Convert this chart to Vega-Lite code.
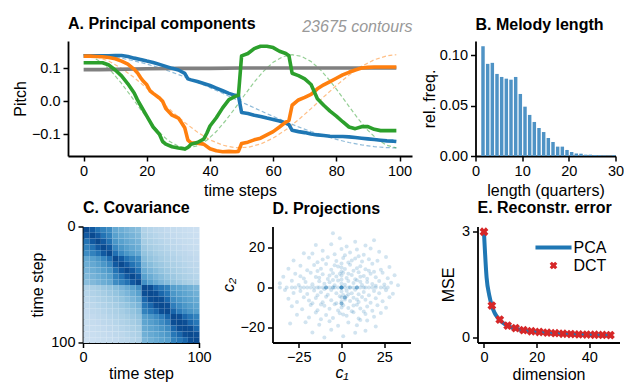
{
  "$schema": "https://vega.github.io/schema/vega-lite/v6.json",
  "background": "white",
  "padding": {"left": 12, "top": 16, "right": 0, "bottom": 0},
  "columns": 1,
  "align": "none",
  "spacing": 1.5,
  "resolve": {"scale": {"color": "independent"}, "legend": {"color": "independent"}},
  "datasets": {
    "pcs": [
      {"k":"pc0","t":0,"v":0.096},{"k":"pc0","t":5,"v":0.096},{"k":"pc0","t":10,"v":0.097},{"k":"pc0","t":20,"v":0.099},{"k":"pc0","t":30,"v":0.1},{"k":"pc0","t":40,"v":0.1},{"k":"pc0","t":50,"v":0.101},{"k":"pc0","t":60,"v":0.101},{"k":"pc0","t":70,"v":0.101},{"k":"pc0","t":80,"v":0.101},{"k":"pc0","t":90,"v":0.101},{"k":"pc0","t":99,"v":0.101},
      {"k":"pc1","t":0,"v":0.138},{"k":"pc1","t":2,"v":0.138},{"k":"pc1","t":4,"v":0.138},{"k":"pc1","t":6,"v":0.138},{"k":"pc1","t":8,"v":0.138},{"k":"pc1","t":10,"v":0.139},{"k":"pc1","t":12,"v":0.139},{"k":"pc1","t":14,"v":0.136},{"k":"pc1","t":16,"v":0.131},{"k":"pc1","t":18,"v":0.127},{"k":"pc1","t":20,"v":0.122},{"k":"pc1","t":22,"v":0.118},{"k":"pc1","t":24,"v":0.112},{"k":"pc1","t":26,"v":0.106},{"k":"pc1","t":28,"v":0.1},{"k":"pc1","t":30,"v":0.095},{"k":"pc1","t":32,"v":0.085},{"k":"pc1","t":33,"v":0.068},{"k":"pc1","t":34,"v":0.065},{"k":"pc1","t":36,"v":0.06},{"k":"pc1","t":38,"v":0.054},{"k":"pc1","t":40,"v":0.048},{"k":"pc1","t":42,"v":0.04},{"k":"pc1","t":44,"v":0.032},{"k":"pc1","t":46,"v":0.024},{"k":"pc1","t":48,"v":0.018},{"k":"pc1","t":49,"v":0.017},{"k":"pc1","t":50,"v":-0.034},{"k":"pc1","t":52,"v":-0.037},{"k":"pc1","t":54,"v":-0.042},{"k":"pc1","t":56,"v":-0.046},{"k":"pc1","t":58,"v":-0.051},{"k":"pc1","t":60,"v":-0.055},{"k":"pc1","t":62,"v":-0.06},{"k":"pc1","t":64,"v":-0.066},{"k":"pc1","t":65,"v":-0.071},{"k":"pc1","t":66,"v":-0.088},{"k":"pc1","t":68,"v":-0.092},{"k":"pc1","t":70,"v":-0.095},{"k":"pc1","t":72,"v":-0.099},{"k":"pc1","t":74,"v":-0.102},{"k":"pc1","t":76,"v":-0.104},{"k":"pc1","t":78,"v":-0.106},{"k":"pc1","t":80,"v":-0.107},{"k":"pc1","t":82,"v":-0.107},{"k":"pc1","t":84,"v":-0.108},{"k":"pc1","t":86,"v":-0.11},{"k":"pc1","t":88,"v":-0.112},{"k":"pc1","t":90,"v":-0.114},{"k":"pc1","t":92,"v":-0.116},{"k":"pc1","t":94,"v":-0.118},{"k":"pc1","t":96,"v":-0.12},{"k":"pc1","t":98,"v":-0.121},{"k":"pc1","t":99,"v":-0.122},
      {"k":"pc2","t":0,"v":0.137},{"k":"pc2","t":2,"v":0.137},{"k":"pc2","t":4,"v":0.136},{"k":"pc2","t":6,"v":0.135},{"k":"pc2","t":8,"v":0.133},{"k":"pc2","t":10,"v":0.129},{"k":"pc2","t":12,"v":0.122},{"k":"pc2","t":14,"v":0.113},{"k":"pc2","t":16,"v":0.097},{"k":"pc2","t":17,"v":0.087},{"k":"pc2","t":18,"v":0.072},{"k":"pc2","t":19,"v":0.06},{"k":"pc2","t":20,"v":0.05},{"k":"pc2","t":21,"v":0.032},{"k":"pc2","t":22,"v":0.024},{"k":"pc2","t":24,"v":0.01},{"k":"pc2","t":25,"v":0.0},{"k":"pc2","t":26,"v":-0.022},{"k":"pc2","t":28,"v":-0.042},{"k":"pc2","t":30,"v":-0.051},{"k":"pc2","t":31,"v":-0.065},{"k":"pc2","t":32,"v":-0.08},{"k":"pc2","t":33,"v":-0.118},{"k":"pc2","t":34,"v":-0.126},{"k":"pc2","t":36,"v":-0.127},{"k":"pc2","t":38,"v":-0.13},{"k":"pc2","t":40,"v":-0.144},{"k":"pc2","t":42,"v":-0.15},{"k":"pc2","t":44,"v":-0.153},{"k":"pc2","t":46,"v":-0.152},{"k":"pc2","t":48,"v":-0.153},{"k":"pc2","t":49,"v":-0.152},{"k":"pc2","t":50,"v":-0.128},{"k":"pc2","t":52,"v":-0.124},{"k":"pc2","t":54,"v":-0.117},{"k":"pc2","t":56,"v":-0.112},{"k":"pc2","t":58,"v":-0.102},{"k":"pc2","t":60,"v":-0.092},{"k":"pc2","t":62,"v":-0.078},{"k":"pc2","t":64,"v":-0.063},{"k":"pc2","t":65,"v":-0.058},{"k":"pc2","t":66,"v":-0.012},{"k":"pc2","t":68,"v":0.004},{"k":"pc2","t":70,"v":0.012},{"k":"pc2","t":72,"v":0.021},{"k":"pc2","t":74,"v":0.038},{"k":"pc2","t":76,"v":0.05},{"k":"pc2","t":78,"v":0.06},{"k":"pc2","t":80,"v":0.07},{"k":"pc2","t":82,"v":0.08},{"k":"pc2","t":84,"v":0.088},{"k":"pc2","t":86,"v":0.095},{"k":"pc2","t":88,"v":0.101},{"k":"pc2","t":90,"v":0.103},{"k":"pc2","t":92,"v":0.104},{"k":"pc2","t":94,"v":0.104},{"k":"pc2","t":96,"v":0.104},{"k":"pc2","t":98,"v":0.104},{"k":"pc2","t":99,"v":0.104},
      {"k":"pc3","t":0,"v":0.117},{"k":"pc3","t":2,"v":0.117},{"k":"pc3","t":4,"v":0.117},{"k":"pc3","t":6,"v":0.117},{"k":"pc3","t":8,"v":0.11},{"k":"pc3","t":10,"v":0.095},{"k":"pc3","t":12,"v":0.077},{"k":"pc3","t":14,"v":0.053},{"k":"pc3","t":16,"v":0.025},{"k":"pc3","t":17,"v":0.005},{"k":"pc3","t":18,"v":-0.012},{"k":"pc3","t":20,"v":-0.045},{"k":"pc3","t":22,"v":-0.078},{"k":"pc3","t":24,"v":-0.1},{"k":"pc3","t":25,"v":-0.122},{"k":"pc3","t":26,"v":-0.13},{"k":"pc3","t":28,"v":-0.138},{"k":"pc3","t":30,"v":-0.142},{"k":"pc3","t":32,"v":-0.145},{"k":"pc3","t":33,"v":-0.14},{"k":"pc3","t":34,"v":-0.13},{"k":"pc3","t":36,"v":-0.125},{"k":"pc3","t":38,"v":-0.115},{"k":"pc3","t":39,"v":-0.097},{"k":"pc3","t":40,"v":-0.075},{"k":"pc3","t":42,"v":-0.05},{"k":"pc3","t":44,"v":-0.02},{"k":"pc3","t":46,"v":0.005},{"k":"pc3","t":48,"v":0.015},{"k":"pc3","t":49,"v":0.018},{"k":"pc3","t":50,"v":0.138},{"k":"pc3","t":52,"v":0.145},{"k":"pc3","t":54,"v":0.16},{"k":"pc3","t":56,"v":0.167},{"k":"pc3","t":58,"v":0.167},{"k":"pc3","t":60,"v":0.163},{"k":"pc3","t":62,"v":0.152},{"k":"pc3","t":64,"v":0.145},{"k":"pc3","t":65,"v":0.138},{"k":"pc3","t":66,"v":0.085},{"k":"pc3","t":68,"v":0.078},{"k":"pc3","t":70,"v":0.068},{"k":"pc3","t":72,"v":0.051},{"k":"pc3","t":74,"v":0.008},{"k":"pc3","t":76,"v":-0.012},{"k":"pc3","t":78,"v":-0.03},{"k":"pc3","t":80,"v":-0.045},{"k":"pc3","t":82,"v":-0.062},{"k":"pc3","t":84,"v":-0.078},{"k":"pc3","t":86,"v":-0.083},{"k":"pc3","t":88,"v":-0.077},{"k":"pc3","t":90,"v":-0.077},{"k":"pc3","t":92,"v":-0.085},{"k":"pc3","t":94,"v":-0.089},{"k":"pc3","t":96,"v":-0.089},{"k":"pc3","t":98,"v":-0.089},{"k":"pc3","t":99,"v":-0.089}
    ],
    "basis": [
      {"k":"d1","t":0,"v":0.1414},{"k":"d1","t":4,"v":0.14},{"k":"d1","t":8,"v":0.1364},{"k":"d1","t":12,"v":0.1306},{"k":"d1","t":16,"v":0.1228},{"k":"d1","t":20,"v":0.1131},{"k":"d1","t":24,"v":0.1015},{"k":"d1","t":28,"v":0.0884},{"k":"d1","t":32,"v":0.0739},{"k":"d1","t":36,"v":0.0582},{"k":"d1","t":40,"v":0.0416},{"k":"d1","t":44,"v":0.0243},{"k":"d1","t":48,"v":0.0067},{"k":"d1","t":52,"v":-0.0111},{"k":"d1","t":56,"v":-0.0287},{"k":"d1","t":60,"v":-0.0458},{"k":"d1","t":64,"v":-0.0622},{"k":"d1","t":68,"v":-0.0776},{"k":"d1","t":72,"v":-0.0918},{"k":"d1","t":76,"v":-0.1046},{"k":"d1","t":80,"v":-0.1157},{"k":"d1","t":84,"v":-0.125},{"k":"d1","t":88,"v":-0.1323},{"k":"d1","t":92,"v":-0.1375},{"k":"d1","t":96,"v":-0.1406},{"k":"d1","t":99,"v":-0.1414},
      {"k":"d2","t":0,"v":0.1413},{"k":"d2","t":4,"v":0.1358},{"k":"d2","t":8,"v":0.1217},{"k":"d2","t":12,"v":0.1},{"k":"d2","t":16,"v":0.072},{"k":"d2","t":20,"v":0.0395},{"k":"d2","t":24,"v":0.0044},{"k":"d2","t":28,"v":-0.0308},{"k":"d2","t":32,"v":-0.0642},{"k":"d2","t":36,"v":-0.0935},{"k":"d2","t":40,"v":-0.117},{"k":"d2","t":44,"v":-0.1331},{"k":"d2","t":48,"v":-0.1408},{"k":"d2","t":52,"v":-0.1397},{"k":"d2","t":56,"v":-0.1298},{"k":"d2","t":60,"v":-0.1117},{"k":"d2","t":64,"v":-0.0867},{"k":"d2","t":68,"v":-0.0562},{"k":"d2","t":72,"v":-0.0221},{"k":"d2","t":76,"v":0.0133},{"k":"d2","t":80,"v":0.0479},{"k":"d2","t":84,"v":0.0795},{"k":"d2","t":88,"v":0.1061},{"k":"d2","t":92,"v":0.126},{"k":"d2","t":96,"v":0.138},{"k":"d2","t":99,"v":0.1413},
      {"k":"d3","t":0,"v":0.1412},{"k":"d3","t":3,"v":0.1338},{"k":"d3","t":6,"v":0.1157},{"k":"d3","t":9,"v":0.0884},{"k":"d3","t":12,"v":0.0541},{"k":"d3","t":15,"v":0.0155},{"k":"d3","t":18,"v":-0.0243},{"k":"d3","t":21,"v":-0.0622},{"k":"d3","t":24,"v":-0.0952},{"k":"d3","t":27,"v":-0.1206},{"k":"d3","t":30,"v":-0.1364},{"k":"d3","t":33,"v":-0.1414},{"k":"d3","t":36,"v":-0.1352},{"k":"d3","t":39,"v":-0.1182},{"k":"d3","t":42,"v":-0.0918},{"k":"d3","t":45,"v":-0.0582},{"k":"d3","t":48,"v":-0.0199},{"k":"d3","t":51,"v":0.0199},{"k":"d3","t":54,"v":0.0582},{"k":"d3","t":57,"v":0.0918},{"k":"d3","t":60,"v":0.1182},{"k":"d3","t":63,"v":0.1352},{"k":"d3","t":66,"v":0.1414},{"k":"d3","t":69,"v":0.1364},{"k":"d3","t":72,"v":0.1206},{"k":"d3","t":75,"v":0.0952},{"k":"d3","t":78,"v":0.0622},{"k":"d3","t":81,"v":0.0243},{"k":"d3","t":84,"v":-0.0155},{"k":"d3","t":87,"v":-0.0541},{"k":"d3","t":90,"v":-0.0884},{"k":"d3","t":93,"v":-0.1157},{"k":"d3","t":96,"v":-0.1338},{"k":"d3","t":99,"v":-0.1412}
    ],
    "hist": [
      {"len":1,"freq":0.109},{"len":2,"freq":0.0915},{"len":3,"freq":0.0925},{"len":4,"freq":0.0815},{"len":5,"freq":0.0785},{"len":6,"freq":0.0768},{"len":7,"freq":0.0758},{"len":8,"freq":0.0785},{"len":9,"freq":0.0616},{"len":10,"freq":0.049},{"len":11,"freq":0.0408},{"len":12,"freq":0.0338},{"len":13,"freq":0.0278},{"len":14,"freq":0.0238},{"len":15,"freq":0.0179},{"len":16,"freq":0.0139},{"len":17,"freq":0.0093},{"len":18,"freq":0.0093},{"len":19,"freq":0.006},{"len":20,"freq":0.004},{"len":21,"freq":0.0025},{"len":22,"freq":0.0023},{"len":23,"freq":0.0013},{"len":24,"freq":0.0013},{"len":25,"freq":0.001},{"len":26,"freq":0.0008},{"len":27,"freq":0.0006},{"len":28,"freq":0.0004},{"len":29,"freq":0.0008}
    ],
    "cov": [
      {"r":0,"c":0,"v":0.95},{"r":0,"c":5,"v":0.75},{"r":0,"c":10,"v":0.64},{"r":0,"c":15,"v":0.57},{"r":0,"c":20,"v":0.52},{"r":0,"c":25,"v":0.38},{"r":0,"c":30,"v":0.35},{"r":0,"c":35,"v":0.32},{"r":0,"c":40,"v":0.29},{"r":0,"c":45,"v":0.26},{"r":0,"c":50,"v":0.13},{"r":0,"c":55,"v":0.11},{"r":0,"c":60,"v":0.09},{"r":0,"c":65,"v":0.08},{"r":0,"c":70,"v":0.06},{"r":0,"c":75,"v":0.05},{"r":0,"c":80,"v":0.04},{"r":0,"c":85,"v":0.03},{"r":0,"c":90,"v":0.02},{"r":0,"c":95,"v":0.01},
      {"r":5,"c":0,"v":0.75},{"r":5,"c":5,"v":0.95},{"r":5,"c":10,"v":0.75},{"r":5,"c":15,"v":0.64},{"r":5,"c":20,"v":0.57},{"r":5,"c":25,"v":0.42},{"r":5,"c":30,"v":0.38},{"r":5,"c":35,"v":0.35},{"r":5,"c":40,"v":0.32},{"r":5,"c":45,"v":0.29},{"r":5,"c":50,"v":0.15},{"r":5,"c":55,"v":0.13},{"r":5,"c":60,"v":0.11},{"r":5,"c":65,"v":0.09},{"r":5,"c":70,"v":0.08},{"r":5,"c":75,"v":0.06},{"r":5,"c":80,"v":0.05},{"r":5,"c":85,"v":0.04},{"r":5,"c":90,"v":0.03},{"r":5,"c":95,"v":0.02},
      {"r":10,"c":0,"v":0.64},{"r":10,"c":5,"v":0.75},{"r":10,"c":10,"v":0.95},{"r":10,"c":15,"v":0.75},{"r":10,"c":20,"v":0.64},{"r":10,"c":25,"v":0.47},{"r":10,"c":30,"v":0.42},{"r":10,"c":35,"v":0.38},{"r":10,"c":40,"v":0.35},{"r":10,"c":45,"v":0.32},{"r":10,"c":50,"v":0.17},{"r":10,"c":55,"v":0.15},{"r":10,"c":60,"v":0.13},{"r":10,"c":65,"v":0.11},{"r":10,"c":70,"v":0.09},{"r":10,"c":75,"v":0.08},{"r":10,"c":80,"v":0.06},{"r":10,"c":85,"v":0.05},{"r":10,"c":90,"v":0.04},{"r":10,"c":95,"v":0.03},
      {"r":15,"c":0,"v":0.57},{"r":15,"c":5,"v":0.64},{"r":15,"c":10,"v":0.75},{"r":15,"c":15,"v":0.95},{"r":15,"c":20,"v":0.75},{"r":15,"c":25,"v":0.54},{"r":15,"c":30,"v":0.47},{"r":15,"c":35,"v":0.42},{"r":15,"c":40,"v":0.38},{"r":15,"c":45,"v":0.35},{"r":15,"c":50,"v":0.2},{"r":15,"c":55,"v":0.17},{"r":15,"c":60,"v":0.15},{"r":15,"c":65,"v":0.13},{"r":15,"c":70,"v":0.11},{"r":15,"c":75,"v":0.09},{"r":15,"c":80,"v":0.08},{"r":15,"c":85,"v":0.06},{"r":15,"c":90,"v":0.05},{"r":15,"c":95,"v":0.04},
      {"r":20,"c":0,"v":0.52},{"r":20,"c":5,"v":0.57},{"r":20,"c":10,"v":0.64},{"r":20,"c":15,"v":0.75},{"r":20,"c":20,"v":0.95},{"r":20,"c":25,"v":0.65},{"r":20,"c":30,"v":0.54},{"r":20,"c":35,"v":0.47},{"r":20,"c":40,"v":0.42},{"r":20,"c":45,"v":0.38},{"r":20,"c":50,"v":0.23},{"r":20,"c":55,"v":0.2},{"r":20,"c":60,"v":0.17},{"r":20,"c":65,"v":0.15},{"r":20,"c":70,"v":0.13},{"r":20,"c":75,"v":0.11},{"r":20,"c":80,"v":0.09},{"r":20,"c":85,"v":0.08},{"r":20,"c":90,"v":0.06},{"r":20,"c":95,"v":0.05},
      {"r":25,"c":0,"v":0.38},{"r":25,"c":5,"v":0.42},{"r":25,"c":10,"v":0.47},{"r":25,"c":15,"v":0.54},{"r":25,"c":20,"v":0.65},{"r":25,"c":25,"v":0.95},{"r":25,"c":30,"v":0.75},{"r":25,"c":35,"v":0.64},{"r":25,"c":40,"v":0.57},{"r":25,"c":45,"v":0.52},{"r":25,"c":50,"v":0.27},{"r":25,"c":55,"v":0.23},{"r":25,"c":60,"v":0.2},{"r":25,"c":65,"v":0.17},{"r":25,"c":70,"v":0.15},{"r":25,"c":75,"v":0.13},{"r":25,"c":80,"v":0.11},{"r":25,"c":85,"v":0.09},{"r":25,"c":90,"v":0.08},{"r":25,"c":95,"v":0.06},
      {"r":30,"c":0,"v":0.35},{"r":30,"c":5,"v":0.38},{"r":30,"c":10,"v":0.42},{"r":30,"c":15,"v":0.47},{"r":30,"c":20,"v":0.54},{"r":30,"c":25,"v":0.75},{"r":30,"c":30,"v":0.95},{"r":30,"c":35,"v":0.75},{"r":30,"c":40,"v":0.64},{"r":30,"c":45,"v":0.57},{"r":30,"c":50,"v":0.31},{"r":30,"c":55,"v":0.27},{"r":30,"c":60,"v":0.23},{"r":30,"c":65,"v":0.2},{"r":30,"c":70,"v":0.17},{"r":30,"c":75,"v":0.15},{"r":30,"c":80,"v":0.13},{"r":30,"c":85,"v":0.11},{"r":30,"c":90,"v":0.09},{"r":30,"c":95,"v":0.08},
      {"r":35,"c":0,"v":0.32},{"r":35,"c":5,"v":0.35},{"r":35,"c":10,"v":0.38},{"r":35,"c":15,"v":0.42},{"r":35,"c":20,"v":0.47},{"r":35,"c":25,"v":0.64},{"r":35,"c":30,"v":0.75},{"r":35,"c":35,"v":0.95},{"r":35,"c":40,"v":0.75},{"r":35,"c":45,"v":0.64},{"r":35,"c":50,"v":0.36},{"r":35,"c":55,"v":0.31},{"r":35,"c":60,"v":0.27},{"r":35,"c":65,"v":0.23},{"r":35,"c":70,"v":0.2},{"r":35,"c":75,"v":0.17},{"r":35,"c":80,"v":0.15},{"r":35,"c":85,"v":0.13},{"r":35,"c":90,"v":0.11},{"r":35,"c":95,"v":0.09},
      {"r":40,"c":0,"v":0.29},{"r":40,"c":5,"v":0.32},{"r":40,"c":10,"v":0.35},{"r":40,"c":15,"v":0.38},{"r":40,"c":20,"v":0.42},{"r":40,"c":25,"v":0.57},{"r":40,"c":30,"v":0.64},{"r":40,"c":35,"v":0.75},{"r":40,"c":40,"v":0.95},{"r":40,"c":45,"v":0.75},{"r":40,"c":50,"v":0.42},{"r":40,"c":55,"v":0.36},{"r":40,"c":60,"v":0.31},{"r":40,"c":65,"v":0.27},{"r":40,"c":70,"v":0.23},{"r":40,"c":75,"v":0.2},{"r":40,"c":80,"v":0.17},{"r":40,"c":85,"v":0.15},{"r":40,"c":90,"v":0.13},{"r":40,"c":95,"v":0.11},
      {"r":45,"c":0,"v":0.26},{"r":45,"c":5,"v":0.29},{"r":45,"c":10,"v":0.32},{"r":45,"c":15,"v":0.35},{"r":45,"c":20,"v":0.38},{"r":45,"c":25,"v":0.52},{"r":45,"c":30,"v":0.57},{"r":45,"c":35,"v":0.64},{"r":45,"c":40,"v":0.75},{"r":45,"c":45,"v":0.95},{"r":45,"c":50,"v":0.5},{"r":45,"c":55,"v":0.42},{"r":45,"c":60,"v":0.36},{"r":45,"c":65,"v":0.31},{"r":45,"c":70,"v":0.27},{"r":45,"c":75,"v":0.23},{"r":45,"c":80,"v":0.2},{"r":45,"c":85,"v":0.17},{"r":45,"c":90,"v":0.15},{"r":45,"c":95,"v":0.13},
      {"r":50,"c":0,"v":0.13},{"r":50,"c":5,"v":0.15},{"r":50,"c":10,"v":0.17},{"r":50,"c":15,"v":0.2},{"r":50,"c":20,"v":0.23},{"r":50,"c":25,"v":0.27},{"r":50,"c":30,"v":0.31},{"r":50,"c":35,"v":0.36},{"r":50,"c":40,"v":0.42},{"r":50,"c":45,"v":0.5},{"r":50,"c":50,"v":0.95},{"r":50,"c":55,"v":0.8},{"r":50,"c":60,"v":0.69},{"r":50,"c":65,"v":0.62},{"r":50,"c":70,"v":0.57},{"r":50,"c":75,"v":0.43},{"r":50,"c":80,"v":0.4},{"r":50,"c":85,"v":0.37},{"r":50,"c":90,"v":0.34},{"r":50,"c":95,"v":0.31},
      {"r":55,"c":0,"v":0.11},{"r":55,"c":5,"v":0.13},{"r":55,"c":10,"v":0.15},{"r":55,"c":15,"v":0.17},{"r":55,"c":20,"v":0.2},{"r":55,"c":25,"v":0.23},{"r":55,"c":30,"v":0.27},{"r":55,"c":35,"v":0.31},{"r":55,"c":40,"v":0.36},{"r":55,"c":45,"v":0.42},{"r":55,"c":50,"v":0.8},{"r":55,"c":55,"v":0.95},{"r":55,"c":60,"v":0.8},{"r":55,"c":65,"v":0.69},{"r":55,"c":70,"v":0.62},{"r":55,"c":75,"v":0.47},{"r":55,"c":80,"v":0.43},{"r":55,"c":85,"v":0.4},{"r":55,"c":90,"v":0.37},{"r":55,"c":95,"v":0.34},
      {"r":60,"c":0,"v":0.09},{"r":60,"c":5,"v":0.11},{"r":60,"c":10,"v":0.13},{"r":60,"c":15,"v":0.15},{"r":60,"c":20,"v":0.17},{"r":60,"c":25,"v":0.2},{"r":60,"c":30,"v":0.23},{"r":60,"c":35,"v":0.27},{"r":60,"c":40,"v":0.31},{"r":60,"c":45,"v":0.36},{"r":60,"c":50,"v":0.69},{"r":60,"c":55,"v":0.8},{"r":60,"c":60,"v":0.95},{"r":60,"c":65,"v":0.8},{"r":60,"c":70,"v":0.69},{"r":60,"c":75,"v":0.52},{"r":60,"c":80,"v":0.47},{"r":60,"c":85,"v":0.43},{"r":60,"c":90,"v":0.4},{"r":60,"c":95,"v":0.37},
      {"r":65,"c":0,"v":0.08},{"r":65,"c":5,"v":0.09},{"r":65,"c":10,"v":0.11},{"r":65,"c":15,"v":0.13},{"r":65,"c":20,"v":0.15},{"r":65,"c":25,"v":0.17},{"r":65,"c":30,"v":0.2},{"r":65,"c":35,"v":0.23},{"r":65,"c":40,"v":0.27},{"r":65,"c":45,"v":0.31},{"r":65,"c":50,"v":0.62},{"r":65,"c":55,"v":0.69},{"r":65,"c":60,"v":0.8},{"r":65,"c":65,"v":0.95},{"r":65,"c":70,"v":0.8},{"r":65,"c":75,"v":0.59},{"r":65,"c":80,"v":0.52},{"r":65,"c":85,"v":0.47},{"r":65,"c":90,"v":0.43},{"r":65,"c":95,"v":0.4},
      {"r":70,"c":0,"v":0.06},{"r":70,"c":5,"v":0.08},{"r":70,"c":10,"v":0.09},{"r":70,"c":15,"v":0.11},{"r":70,"c":20,"v":0.13},{"r":70,"c":25,"v":0.15},{"r":70,"c":30,"v":0.17},{"r":70,"c":35,"v":0.2},{"r":70,"c":40,"v":0.23},{"r":70,"c":45,"v":0.27},{"r":70,"c":50,"v":0.57},{"r":70,"c":55,"v":0.62},{"r":70,"c":60,"v":0.69},{"r":70,"c":65,"v":0.8},{"r":70,"c":70,"v":0.95},{"r":70,"c":75,"v":0.7},{"r":70,"c":80,"v":0.59},{"r":70,"c":85,"v":0.52},{"r":70,"c":90,"v":0.47},{"r":70,"c":95,"v":0.43},
      {"r":75,"c":0,"v":0.05},{"r":75,"c":5,"v":0.06},{"r":75,"c":10,"v":0.08},{"r":75,"c":15,"v":0.09},{"r":75,"c":20,"v":0.11},{"r":75,"c":25,"v":0.13},{"r":75,"c":30,"v":0.15},{"r":75,"c":35,"v":0.17},{"r":75,"c":40,"v":0.2},{"r":75,"c":45,"v":0.23},{"r":75,"c":50,"v":0.43},{"r":75,"c":55,"v":0.47},{"r":75,"c":60,"v":0.52},{"r":75,"c":65,"v":0.59},{"r":75,"c":70,"v":0.7},{"r":75,"c":75,"v":0.95},{"r":75,"c":80,"v":0.8},{"r":75,"c":85,"v":0.69},{"r":75,"c":90,"v":0.62},{"r":75,"c":95,"v":0.57},
      {"r":80,"c":0,"v":0.04},{"r":80,"c":5,"v":0.05},{"r":80,"c":10,"v":0.06},{"r":80,"c":15,"v":0.08},{"r":80,"c":20,"v":0.09},{"r":80,"c":25,"v":0.11},{"r":80,"c":30,"v":0.13},{"r":80,"c":35,"v":0.15},{"r":80,"c":40,"v":0.17},{"r":80,"c":45,"v":0.2},{"r":80,"c":50,"v":0.4},{"r":80,"c":55,"v":0.43},{"r":80,"c":60,"v":0.47},{"r":80,"c":65,"v":0.52},{"r":80,"c":70,"v":0.59},{"r":80,"c":75,"v":0.8},{"r":80,"c":80,"v":0.95},{"r":80,"c":85,"v":0.8},{"r":80,"c":90,"v":0.69},{"r":80,"c":95,"v":0.62},
      {"r":85,"c":0,"v":0.03},{"r":85,"c":5,"v":0.04},{"r":85,"c":10,"v":0.05},{"r":85,"c":15,"v":0.06},{"r":85,"c":20,"v":0.08},{"r":85,"c":25,"v":0.09},{"r":85,"c":30,"v":0.11},{"r":85,"c":35,"v":0.13},{"r":85,"c":40,"v":0.15},{"r":85,"c":45,"v":0.17},{"r":85,"c":50,"v":0.37},{"r":85,"c":55,"v":0.4},{"r":85,"c":60,"v":0.43},{"r":85,"c":65,"v":0.47},{"r":85,"c":70,"v":0.52},{"r":85,"c":75,"v":0.69},{"r":85,"c":80,"v":0.8},{"r":85,"c":85,"v":0.95},{"r":85,"c":90,"v":0.8},{"r":85,"c":95,"v":0.69},
      {"r":90,"c":0,"v":0.02},{"r":90,"c":5,"v":0.03},{"r":90,"c":10,"v":0.04},{"r":90,"c":15,"v":0.05},{"r":90,"c":20,"v":0.06},{"r":90,"c":25,"v":0.08},{"r":90,"c":30,"v":0.09},{"r":90,"c":35,"v":0.11},{"r":90,"c":40,"v":0.13},{"r":90,"c":45,"v":0.15},{"r":90,"c":50,"v":0.34},{"r":90,"c":55,"v":0.37},{"r":90,"c":60,"v":0.4},{"r":90,"c":65,"v":0.43},{"r":90,"c":70,"v":0.47},{"r":90,"c":75,"v":0.62},{"r":90,"c":80,"v":0.69},{"r":90,"c":85,"v":0.8},{"r":90,"c":90,"v":0.95},{"r":90,"c":95,"v":0.8},
      {"r":95,"c":0,"v":0.01},{"r":95,"c":5,"v":0.02},{"r":95,"c":10,"v":0.03},{"r":95,"c":15,"v":0.04},{"r":95,"c":20,"v":0.05},{"r":95,"c":25,"v":0.06},{"r":95,"c":30,"v":0.08},{"r":95,"c":35,"v":0.09},{"r":95,"c":40,"v":0.11},{"r":95,"c":45,"v":0.13},{"r":95,"c":50,"v":0.31},{"r":95,"c":55,"v":0.34},{"r":95,"c":60,"v":0.37},{"r":95,"c":65,"v":0.4},{"r":95,"c":70,"v":0.43},{"r":95,"c":75,"v":0.57},{"r":95,"c":80,"v":0.62},{"r":95,"c":85,"v":0.69},{"r":95,"c":90,"v":0.8},{"r":95,"c":95,"v":0.95}
    ],
    "proj": [
      {"c1":-6,"c2":21.5},{"c1":3,"c2":20.4},{"c1":8,"c2":22.8},{"c1":14,"c2":20.9},{"c1":-15,"c2":21.2},{"c1":19,"c2":23.5},{"c1":-1,"c2":24.6},{"c1":-5,"c2":27},
      {"c1":-22,"c2":17.1},{"c1":-11,"c2":18.3},{"c1":-4,"c2":16.6},{"c1":0,"c2":19.2},{"c1":5,"c2":17.4},{"c1":9,"c2":18.9},{"c1":13,"c2":16.3},{"c1":17,"c2":19.5},{"c1":22,"c2":17.8},{"c1":-17,"c2":16.9},{"c1":2,"c2":16.1},
      {"c1":-28,"c2":13.4},{"c1":-19,"c2":14.8},{"c1":-14,"c2":12.6},{"c1":-8,"c2":15.1},{"c1":-3,"c2":13.2},{"c1":0,"c2":12},{"c1":1,"c2":14.7},{"c1":6,"c2":13.5},{"c1":10,"c2":15.6},{"c1":12,"c2":12.9},{"c1":16,"c2":14.1},{"c1":21,"c2":13.3},{"c1":26,"c2":15.2},{"c1":-11,"c2":13.9},{"c1":4,"c2":12.4},{"c1":8,"c2":14.4},
      {"c1":-31,"c2":9.4},{"c1":-24,"c2":10.8},{"c1":-20,"c2":8.6},{"c1":-16,"c2":11.2},{"c1":-12,"c2":9.3},{"c1":-9,"c2":11.7},{"c1":-6,"c2":8.8},{"c1":-2,"c2":10.5},{"c1":0,"c2":8},{"c1":0,"c2":10},{"c1":2,"c2":9.2},{"c1":5,"c2":11.4},{"c1":7,"c2":8.3},{"c1":11,"c2":10.6},{"c1":14,"c2":9.1},{"c1":18,"c2":11.8},{"c1":23,"c2":8.9},{"c1":28,"c2":10.2},{"c1":-4,"c2":11.1},{"c1":9,"c2":9.6},{"c1":16,"c2":8.4},{"c1":-14,"c2":8.2},
      {"c1":-34,"c2":5.3},{"c1":-27,"c2":6.8},{"c1":-22,"c2":4.5},{"c1":-18,"c2":7.4},{"c1":-15,"c2":5.2},{"c1":-11,"c2":6.6},{"c1":-8,"c2":4.3},{"c1":-5,"c2":7.1},{"c1":-3,"c2":5.5},{"c1":0,"c2":4},{"c1":0,"c2":6},{"c1":1,"c2":7.3},{"c1":3,"c2":4.8},{"c1":6,"c2":6.2},{"c1":8,"c2":4.1},{"c1":10,"c2":7.6},{"c1":13,"c2":5.7},{"c1":15,"c2":4.4},{"c1":17,"c2":6.9},{"c1":20,"c2":5.1},{"c1":24,"c2":7.3},{"c1":27,"c2":4.6},{"c1":31,"c2":6.1},{"c1":-24,"c2":5.6},{"c1":-13,"c2":4.9},{"c1":-1,"c2":6.8},{"c1":4,"c2":6.9},{"c1":11,"c2":5.3},{"c1":19,"c2":7.8},{"c1":-7,"c2":6},
      {"c1":-36,"c2":2.1},{"c1":-29,"c2":3.4},{"c1":-25,"c2":1.2},{"c1":-21,"c2":2.8},{"c1":-17,"c2":1.6},{"c1":-13,"c2":3.1},{"c1":-10,"c2":1.9},{"c1":-7,"c2":2.6},{"c1":-4,"c2":1.1},{"c1":-2,"c2":3.5},{"c1":0,"c2":2},{"c1":2,"c2":1.4},{"c1":4,"c2":3.2},{"c1":7,"c2":2.2},{"c1":9,"c2":3.6},{"c1":12,"c2":1.3},{"c1":15,"c2":2.7},{"c1":18,"c2":1.8},{"c1":22,"c2":3.3},{"c1":25,"c2":1.5},{"c1":29,"c2":2.4},{"c1":33,"c2":1.1},{"c1":-5,"c2":3.8},{"c1":11,"c2":2.9},{"c1":20,"c2":0.9},
      {"c1":-36,"c2":0},{"c1":-32,"c2":0},{"c1":-29,"c2":0},{"c1":-27,"c2":0},{"c1":-24,"c2":0},{"c1":-22,"c2":0},{"c1":-20,"c2":0},{"c1":-18,"c2":0},{"c1":-16,"c2":0},{"c1":-14,"c2":0},{"c1":-13,"c2":0},{"c1":-11,"c2":0},{"c1":-9,"c2":0},{"c1":-9,"c2":0},{"c1":-9,"c2":0},{"c1":-9,"c2":0},{"c1":-7,"c2":0},{"c1":-5,"c2":0},{"c1":-5,"c2":0},{"c1":-4,"c2":0},{"c1":-2,"c2":0},{"c1":0,"c2":0},{"c1":0,"c2":0},{"c1":0,"c2":0},{"c1":0,"c2":0},{"c1":0,"c2":0},{"c1":0,"c2":0},{"c1":0,"c2":0},{"c1":0,"c2":0},{"c1":2,"c2":0},{"c1":4,"c2":0},{"c1":5,"c2":0},{"c1":5,"c2":0},{"c1":7,"c2":0},{"c1":9,"c2":0},{"c1":9,"c2":0},{"c1":9,"c2":0},{"c1":9,"c2":0},{"c1":11,"c2":0},{"c1":13,"c2":0},{"c1":14,"c2":0},{"c1":16,"c2":0},{"c1":18,"c2":0},{"c1":20,"c2":0},{"c1":23,"c2":0},{"c1":25,"c2":0},{"c1":27,"c2":0},
      {"c1":-33,"c2":-1.3},{"c1":-28,"c2":-2.7},{"c1":-24,"c2":-1.8},{"c1":-20,"c2":-3.2},{"c1":-16,"c2":-1.5},{"c1":-12,"c2":-2.4},{"c1":-8,"c2":-3.6},{"c1":-6,"c2":-1.2},{"c1":-3,"c2":-2.9},{"c1":0,"c2":-2},{"c1":1,"c2":-3.7},{"c1":3,"c2":-1.6},{"c1":6,"c2":-2.8},{"c1":8,"c2":-1.1},{"c1":10,"c2":-3.4},{"c1":13,"c2":-2.2},{"c1":16,"c2":-3.8},{"c1":19,"c2":-1.7},{"c1":22,"c2":-2.9},{"c1":26,"c2":-1.4},{"c1":30,"c2":-3.1},{"c1":-14,"c2":-3.9},{"c1":4,"c2":-3.3},{"c1":-10,"c2":-0.8},
      {"c1":-31,"c2":-5.6},{"c1":-26,"c2":-7.2},{"c1":-22,"c2":-4.8},{"c1":-19,"c2":-6.5},{"c1":-15,"c2":-5.2},{"c1":-11,"c2":-7.4},{"c1":-9,"c2":-4.6},{"c1":-6,"c2":-6.3},{"c1":-3,"c2":-7.8},{"c1":0,"c2":-5},{"c1":0,"c2":-7},{"c1":0,"c2":-8},{"c1":0,"c2":-8},{"c1":0,"c2":-8},{"c1":2,"c2":-5},{"c1":2,"c2":-5},{"c1":2,"c2":-5},{"c1":2,"c2":-6},{"c1":3,"c2":-4.3},{"c1":5,"c2":-6.7},{"c1":7,"c2":-5.1},{"c1":10,"c2":-7.2},{"c1":12,"c2":-4.7},{"c1":14,"c2":-6.1},{"c1":17,"c2":-7.6},{"c1":20,"c2":-5.4},{"c1":24,"c2":-6.8},{"c1":28,"c2":-4.9},{"c1":-17,"c2":-7.9},{"c1":-1,"c2":-4.4},{"c1":9,"c2":-6},
      {"c1":-29,"c2":-9.3},{"c1":-23,"c2":-10.8},{"c1":-18,"c2":-8.7},{"c1":-14,"c2":-11.3},{"c1":-10,"c2":-9.1},{"c1":-7,"c2":-10.6},{"c1":-4,"c2":-8.4},{"c1":-2,"c2":-11.5},{"c1":0,"c2":-10},{"c1":1,"c2":-8.9},{"c1":4,"c2":-10.2},{"c1":6,"c2":-11.8},{"c1":9,"c2":-8.6},{"c1":11,"c2":-10.4},{"c1":15,"c2":-9.5},{"c1":18,"c2":-11.6},{"c1":21,"c2":-8.8},{"c1":26,"c2":-10.1},{"c1":-12,"c2":-8.5},{"c1":13,"c2":-11.9},{"c1":7,"c2":-9},
      {"c1":-26,"c2":-13.6},{"c1":-19,"c2":-14.9},{"c1":-15,"c2":-12.4},{"c1":-9,"c2":-13.7},{"c1":-5,"c2":-15.2},{"c1":-1,"c2":-12.8},{"c1":3,"c2":-14.1},{"c1":7,"c2":-12.3},{"c1":10,"c2":-15.5},{"c1":14,"c2":-13.2},{"c1":19,"c2":-14.6},{"c1":23,"c2":-12.7},{"c1":-12,"c2":-15.8},{"c1":1,"c2":-13.5},
      {"c1":-21,"c2":-17.3},{"c1":-13,"c2":-18.6},{"c1":-7,"c2":-16.8},{"c1":-2,"c2":-19.1},{"c1":4,"c2":-17.4},{"c1":9,"c2":-18.8},{"c1":15,"c2":-16.5},{"c1":20,"c2":-19.4},{"c1":-30,"c2":-17.9},{"c1":11,"c2":-16.2},
      {"c1":-17,"c2":-22.4},{"c1":-6,"c2":-21.1},{"c1":1,"c2":-24.3},{"c1":8,"c2":-22.6},{"c1":-10,"c2":-24.9},{"c1":14,"c2":-21.5}
    ],
    "pcaErr": [
      {"dim":0,"mse":3.0},{"dim":1,"mse":1.7},{"dim":2,"mse":1.2},{"dim":3,"mse":0.9},{"dim":4,"mse":0.7},{"dim":5,"mse":0.58},{"dim":6,"mse":0.49},{"dim":7,"mse":0.42},{"dim":8,"mse":0.37},{"dim":9,"mse":0.33},{"dim":10,"mse":0.29},{"dim":12,"mse":0.24},{"dim":14,"mse":0.21},{"dim":16,"mse":0.18},{"dim":18,"mse":0.16},{"dim":20,"mse":0.145},{"dim":25,"mse":0.115},{"dim":30,"mse":0.095},{"dim":35,"mse":0.08},{"dim":40,"mse":0.065},{"dim":45,"mse":0.055},{"dim":49,"mse":0.05}
    ],
    "dctErr": [
      {"dim":0,"mse":3.0},{"dim":3,"mse":0.9},{"dim":6,"mse":0.5},{"dim":9,"mse":0.33},{"dim":12,"mse":0.26},{"dim":15,"mse":0.2},{"dim":18,"mse":0.17},{"dim":21,"mse":0.15},{"dim":24,"mse":0.13},{"dim":27,"mse":0.115},{"dim":30,"mse":0.1},{"dim":33,"mse":0.09},{"dim":36,"mse":0.08},{"dim":39,"mse":0.075},{"dim":42,"mse":0.07},{"dim":45,"mse":0.065},{"dim":48,"mse":0.06}
    ],
    "spacer": [{"s": 0}]
  },
  "concat": [
    {
      "hconcat": [
        {
          "width": 344, "height": 115,
          "title": {"text": "A. Principal components", "offset": -14},
          "layer": [
            {
              "data": {"name": "basis"},
              "mark": {"type": "line", "strokeWidth": 1.2, "strokeDash": [4, 2.5], "opacity": 0.5},
              "encoding": {
                "x": {"field": "t", "type": "quantitative", "scale": {"domain": [-4.95, 103.95], "nice": false, "zero": false}, "axis": {"orient": "top", "title": "23675 contours", "domain": false, "ticks": false, "labels": false, "titleAnchor": "end", "titleFontStyle": "italic", "titleColor": "#999999", "titlePadding": 7}},
                "y": {"field": "v", "type": "quantitative", "title": "Pitch", "scale": {"domain": [-0.166, 0.183], "nice": false, "zero": false}, "axis": {"values": [-0.1, 0, 0.1], "format": ".1f", "titlePadding": 3}},
                "color": {"field": "k", "type": "nominal", "scale": {"domain": ["pc0", "pc1", "pc2", "pc3", "d1", "d2", "d3"], "range": ["#808080", "#1f77b4", "#ff7f0e", "#2ca02c", "#1f77b4", "#ff7f0e", "#2ca02c"]}, "legend": null}
              }
            },
            {
              "data": {"name": "pcs"},
              "mark": {"type": "line", "strokeWidth": 3.6, "strokeJoin": "round"},
              "encoding": {
                "x": {"field": "t", "type": "quantitative", "scale": {"domain": [-4.95, 103.95], "nice": false, "zero": false}, "axis": {"orient": "bottom", "title": "time steps", "values": [0, 20, 40, 60, 80, 100], "titlePadding": 4.5}},
                "y": {"field": "v", "type": "quantitative", "title": "Pitch", "scale": {"domain": [-0.166, 0.183], "nice": false, "zero": false}},
                "color": {"field": "k", "type": "nominal", "legend": null}
              }
            }
          ],
          "resolve": {"axis": {"x": "independent"}}
        },
        {
          "width": 140, "height": 115,
          "title": {"text": "B. Melody length", "offset": 8},
          "data": {"name": "hist"},
          "mark": {"type": "bar", "color": "#4f93c5", "binSpacing": 1.2},
          "encoding": {
            "x": {"field": "len", "type": "quantitative", "bin": {"binned": true, "step": 1}, "title": "length (quarters)", "scale": {"domain": [0, 30], "nice": false, "zero": false}, "axis": {"values": [0, 10, 20, 30], "format": "d", "titlePadding": 4.5}},
            "y": {"field": "freq", "type": "quantitative", "title": "rel. freq.", "scale": {"domain": [0, 0.1142], "nice": false}, "axis": {"values": [0, 0.05, 0.1], "format": ".2f", "titlePadding": 2}}
          }
        }
      ],
      "spacing": 8.5,
      "resolve": {"scale": {"color": "independent"}, "legend": {"color": "independent"}}
    },
    {
      "hconcat": [
        {
          "hconcat": [
            {
              "width": 1, "height": 116,
              "data": {"name": "spacer"},
              "mark": {"type": "rule", "opacity": 0},
              "encoding": {"x": {"field": "s", "type": "quantitative", "axis": null, "scale": {"domain": [0, 1]}}}
            },
            {
              "width": 116, "height": 116,
              "title": {"text": "C. Covariance", "offset": 3},
              "data": {"name": "cov"},
              "mark": {"type": "rect"},
              "encoding": {
                "x": {"field": "c", "type": "quantitative", "bin": {"binned": true, "step": 5}, "title": "time step", "scale": {"domain": [0, 100], "nice": false}, "axis": {"values": [0, 100], "format": "d", "titlePadding": 1}},
                "y": {"field": "r", "type": "quantitative", "bin": {"binned": true, "step": 5}, "title": "time step", "scale": {"domain": [0, 100], "nice": false, "reverse": true}, "axis": {"values": [0, 100], "format": "d", "titlePadding": 5}},
                "color": {"field": "v", "type": "quantitative", "scale": {"scheme": "blues", "domain": [0, 0.82], "clamp": true}, "legend": null}
              }
            }
          ],
          "spacing": 14,
          "bounds": "flush"
        },
        {
          "hconcat": [
            {
              "width": 138, "height": 116,
              "title": {"text": "D. Projections", "offset": 10},
              "data": {"name": "proj"},
              "mark": {"type": "circle", "size": 16, "opacity": 0.2, "color": "#1f77b4"},
              "encoding": {
                "x": {"field": "c1", "type": "quantitative", "title": "c₁", "scale": {"domain": [-40.3, 40.3], "nice": false, "zero": false}, "axis": {"values": [-25, 0, 25], "titleFontStyle": "italic", "titlePadding": 0}},
                "y": {"field": "c2", "type": "quantitative", "title": "c₂", "scale": {"domain": [-27.4, 30.4], "nice": false, "zero": false}, "axis": {"values": [-20, 0, 20], "titleFontStyle": "italic", "titlePadding": 3}}
              }
            },
            {
              "width": 142, "height": 116,
              "title": {"text": "E. Reconstr. error", "offset": 8},
              "layer": [
                {
                  "data": {"name": "pcaErr"},
                  "mark": {"type": "line", "strokeWidth": 4, "interpolate": "monotone"},
                  "encoding": {
                    "x": {"field": "dim", "type": "quantitative", "title": "dimension", "scale": {"domain": [-2.45, 51.45], "nice": false, "zero": false}, "axis": {"values": [0, 20, 40], "titlePadding": 2}},
                    "y": {"field": "mse", "type": "quantitative", "title": "MSE", "scale": {"domain": [-0.15, 3.15], "nice": false, "zero": false}, "axis": {"values": [0, 1, 2, 3], "titlePadding": 5}},
                    "color": {
                      "datum": "PCA", "type": "nominal",
                      "scale": {"domain": ["PCA", "DCT"], "range": ["#1f77b4", "#d62728"]},
                      "legend": {
                        "orient": "top-right", "offset": 13, "title": null, "padding": 0,
                        "labelFontSize": 16, "labelColor": "#000", "labelOffset": 12, "rowPadding": 2,
                        "symbolType": "stroke", "symbolSize": 1300, "symbolStrokeWidth": 4,
                        "encode": {
                          "symbols": {
                            "update": {
                              "shape": {"signal": "datum.value === 'PCA' ? 'stroke' : 'cross'"},
                              "angle": {"signal": "datum.value === 'PCA' ? 0 : 45"},
                              "size": {"signal": "datum.value === 'PCA' ? 1300 : 60"},
                              "fill": {"signal": "datum.value === 'PCA' ? 'transparent' : '#d62728'"},
                              "stroke": {"signal": "datum.value === 'PCA' ? '#1f77b4' : 'transparent'"},
                              "strokeWidth": {"signal": "datum.value === 'PCA' ? 4 : 0"},
                              "opacity": {"value": 1}
                            }
                          }
                        }
                      }
                    }
                  }
                },
                {
                  "data": {"name": "dctErr"},
                  "mark": {"type": "point", "shape": "cross", "angle": 45, "filled": true, "size": 80, "opacity": 1},
                  "encoding": {
                    "x": {"field": "dim", "type": "quantitative", "title": "dimension", "scale": {"domain": [-2.45, 51.45], "nice": false, "zero": false}},
                    "y": {"field": "mse", "type": "quantitative", "title": "MSE", "scale": {"domain": [-0.15, 3.15], "nice": false, "zero": false}},
                    "color": {"datum": "DCT", "type": "nominal"}
                  }
                }
              ]
            }
          ],
          "spacing": 29,
          "resolve": {"scale": {"color": "independent"}, "legend": {"color": "independent"}}
        }
      ],
      "spacing": 8.5,
      "resolve": {"scale": {"color": "independent"}, "legend": {"color": "independent"}}
    }
  ],
  "config": {
    "font": "Liberation Sans",
    "view": {"stroke": null},
    "axis": {"grid": false, "domainColor": "#000", "domainWidth": 1.8, "tickColor": "#000", "tickWidth": 1.5, "tickSize": 5, "labelFontSize": 14.5, "labelColor": "#000", "labelPadding": 3, "titleFontSize": 16, "titleFontWeight": "normal", "titleColor": "#000", "titlePadding": 2, "labelFlush": false, "labelOverlap": false, "zindex": 1},
    "title": {"anchor": "start", "frame": "group", "fontSize": 16, "fontWeight": "bold", "color": "#000", "offset": 10}
  }
}
